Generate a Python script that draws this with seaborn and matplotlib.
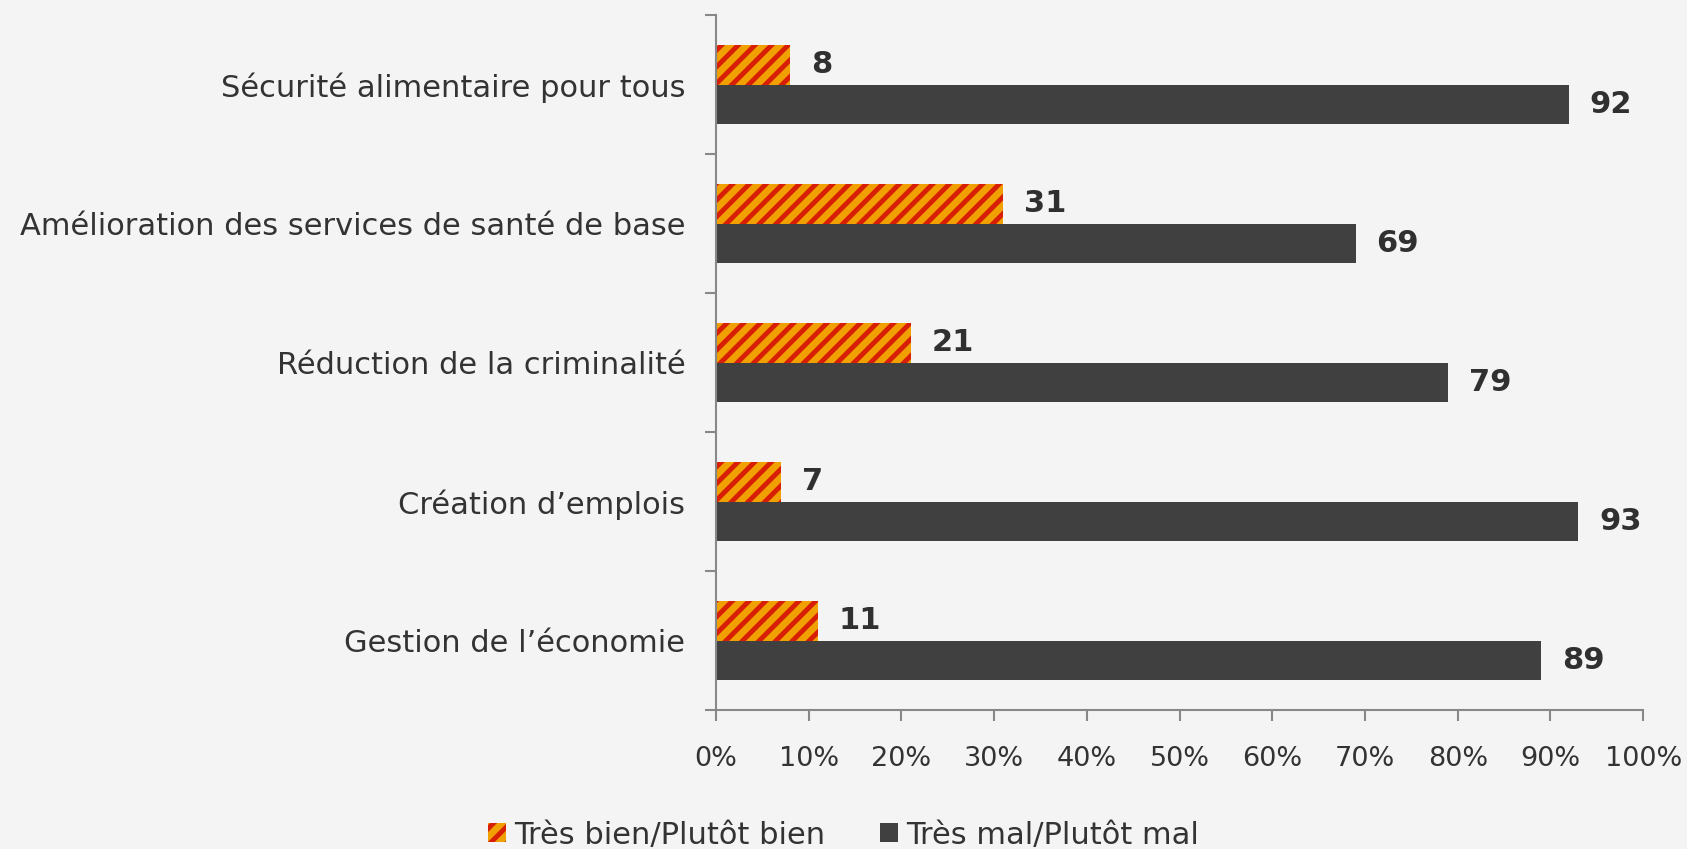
import pandas as pd
import matplotlib
matplotlib.use("Agg")
import matplotlib.pyplot as plt
import seaborn as sns

categories = [
    "Sécurité alimentaire pour tous",
    "Amélioration des services de santé de base",
    "Réduction de la criminalité",
    "Création d\u2019emplois",
    "Gestion de l\u2019économie",
]
bien = [8, 31, 21, 7, 11]
mal = [92, 69, 79, 93, 89]
series = ["Très bien/Plutôt bien", "Très mal/Plutôt mal"]
xticks = [0, 10, 20, 30, 40, 50, 60, 70, 80, 90, 100]

df = pd.DataFrame({
    "cat": categories * 2,
    "val": bien + mal,
    "serie": [series[0]] * len(categories) + [series[1]] * len(categories),
})

sns.set_theme(style="white")
plt.rcParams["font.family"] = ["DejaVu Sans"]
plt.rcParams["hatch.color"] = "#d81e05"
plt.rcParams["hatch.linewidth"] = 3.5

bg = "#f4f4f4"
fig = plt.figure(figsize=(16.87, 8.49), dpi=100, facecolor=bg)
ax = fig.add_axes([0.4244, 0.1637, 0.5496, 0.8183])
ax.set_facecolor(bg)

sns.barplot(data=df, x="val", y="cat", hue="serie", order=categories,
            hue_order=series, palette=["#f0a000", "#404040"], width=0.57,
            orient="h", saturation=1, ax=ax, linewidth=0, legend=False)

# orange bars with red diagonal stripes
for p in ax.containers[0]:
    p.set_hatch("//")
    p.set_edgecolor("#d81e05")
    p.set_linewidth(0)

for c in ax.containers:
    ax.bar_label(c, labels=[str(int(v)) for v in c.datavalues], padding=15,
                 fontsize=22, fontweight="bold", color="#303030")

ax.set_xlim(0, 100)
ax.set_ylim(len(categories) - 0.5, -0.5)
ax.set_xticks(xticks)
ax.set_xticklabels([f"{t}%" for t in xticks])
ax.set_yticks(range(len(categories)))
ax.set_yticklabels(categories)
ax.set_yticks([i - 0.5 for i in range(len(categories) + 1)], minor=True)
ax.tick_params(axis="y", which="major", left=False, length=0, pad=22,
               labelsize=22, labelcolor="#333333")
ax.tick_params(axis="y", which="minor", left=True, length=8, width=1.5,
               color="#888888", direction="out")
ax.tick_params(axis="x", bottom=True, length=8, width=1.5, color="#888888",
               direction="out", pad=18, labelsize=19.5, labelcolor="#333333")
ax.set_xlabel("")
ax.set_ylabel("")
for s in ["top", "right"]:
    ax.spines[s].set_visible(False)
for s in ["left", "bottom"]:
    ax.spines[s].set_color("#888888")
    ax.spines[s].set_linewidth(1.5)

handles = [
    plt.Rectangle((0, 0), 1, 1, facecolor="#f0a000", edgecolor="#d81e05",
                  hatch="//", linewidth=0),
    plt.Rectangle((0, 0), 1, 1, facecolor="#404040", linewidth=0),
]
fig.legend(handles, series, loc="lower center", bbox_to_anchor=(0.5, -0.033),
           ncol=2, frameon=False, fontsize=22, handlelength=0.6,
           handleheight=0.6, handletextpad=0.25, columnspacing=1.8,
           labelcolor="#333333")

fig.savefig("out.png", dpi=100, facecolor=bg)
